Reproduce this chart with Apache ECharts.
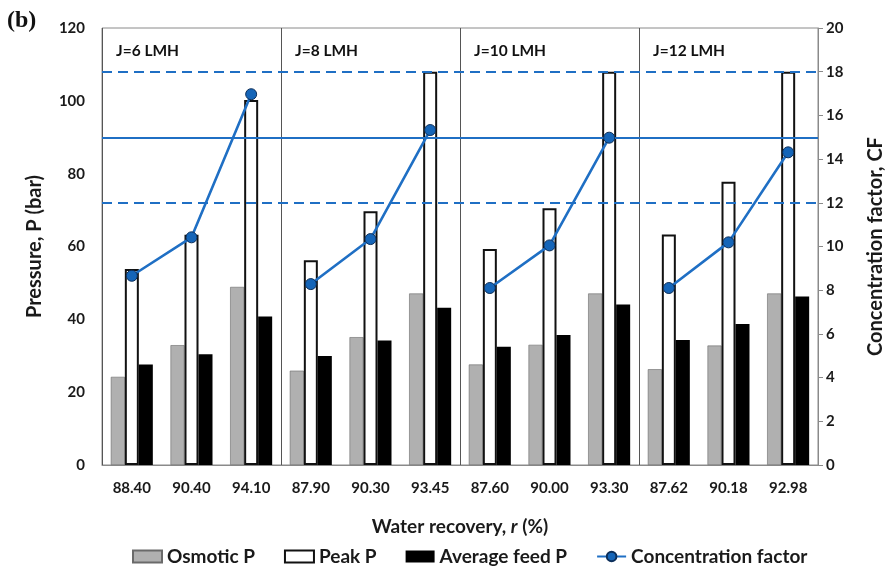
<!DOCTYPE html>
<html><head><meta charset="utf-8">
<script src="https://cdn.jsdelivr.net/npm/echarts@6/dist/echarts.min.js"></script>
<style>html,body{margin:0;padding:0;background:#fff}#c{width:885px;height:572px}</style>
</head><body><div id="c"></div>
<script>
// ---- data ----
const categories = ['88.40','90.40','94.10','87.90','90.30','93.45','87.60','90.00','93.30','87.62','90.18','92.98'];
const groupLabels = ['J=6 LMH','J=8 LMH','J=10 LMH','J=12 LMH'];
const osmoticP = [24.2,32.9,48.9,25.9,35.1,47.1,27.6,33.0,47.1,26.3,32.8,47.1];
const peakP    = [53.8,63.2,100.2,56.2,69.7,108,59.3,70.5,108,63.3,77.8,108];
const avgFeedP = [27.6,30.4,40.8,29.9,34.2,43.2,32.5,35.7,44.1,34.3,38.7,46.3];
const concFactor = [8.66,10.42,16.97,8.28,10.34,15.33,8.10,10.05,14.98,8.10,10.19,14.31];
const cfRefLines = [18,15,12];
const pressureAxis = {min:0,max:120,interval:20};
const cfAxis = {min:0,max:20,interval:2};
const groupSize = 3;

const FONT = 'Lato';
const TXT = '#1a1a1a';
const BLUE = '#1f6fc4';
const chart = echarts.init(document.getElementById('c'), null, {renderer:'canvas'});

// one CF line per flux group (line is broken between groups)
const cfSeries = groupLabels.map((gname, gi) => ({
  name:'Concentration factor', type:'line', yAxisIndex:1, z:5,
  data: concFactor.map((v,i)=> Math.floor(i/groupSize)===gi ? v : '-'),
  connectNulls:false,
  symbol:'circle', symbolSize:11,
  lineStyle:{color:BLUE,width:2.6},
  itemStyle:{color:'#1565b8',borderColor:'#0d2f5a',borderWidth:1},
  markLine: gi===0 ? {silent:true,symbol:['none','none'],label:{show:false},z:4,
    data:cfRefLines.map(v=>({yAxis:v,lineStyle:{color:BLUE,width:1.8,type:v===15?'solid':[10,6]}}))} : undefined
}));

const option = {
  animation:false,
  backgroundColor:'#fff',
  textStyle:{fontFamily:FONT},
  grid:{left:102,right:67,top:28,bottom:107,show:true,borderColor:'#8a8a8a',borderWidth:1,
        containLabel:false,outerBoundsMode:'none'},
  legend:{
    bottom:1,left:127,itemWidth:29,itemHeight:12,itemGap:29,
    textStyle:{fontFamily:FONT,fontSize:19,fontWeight:'bold',color:TXT},
    data:[{name:'Osmotic P',icon:'rect'},{name:'Peak P',icon:'rect'},{name:'Average feed P',icon:'rect'},{name:'Concentration factor'}]
  },
  xAxis:{
    type:'category',data:categories,
    axisLine:{lineStyle:{color:'#8a8a8a',width:1}},
    axisTick:{show:false},
    axisLabel:{fontFamily:FONT,fontSize:15,fontWeight:'bold',color:TXT,margin:16,interval:0},
    splitLine:{show:true,interval:function(i){return i%groupSize===0;},lineStyle:{color:'#555',width:1}},
    name:'Water recovery, {i|r} (%)',nameLocation:'middle',nameGap:52,
    nameTextStyle:{fontFamily:FONT,fontSize:19,fontWeight:'bold',color:TXT,
      rich:{i:{fontFamily:FONT,fontSize:19,fontWeight:'bold',fontStyle:'italic',color:TXT}}}
  },
  yAxis:[
    {type:'value',min:pressureAxis.min,max:pressureAxis.max,interval:pressureAxis.interval,
     axisLine:{show:false},axisTick:{show:false},splitLine:{show:false},
     axisLabel:{fontFamily:FONT,fontSize:15,fontWeight:'bold',color:TXT,margin:17},
     name:'Pressure, P (bar)',nameLocation:'middle',nameGap:57,
     nameTextStyle:{fontFamily:FONT,fontSize:20,fontWeight:'bold',color:TXT}},
    {type:'value',position:'right',min:cfAxis.min,max:cfAxis.max,interval:cfAxis.interval,
     axisLine:{show:true,lineStyle:{color:'#8a8a8a',width:1}},
     axisTick:{show:true,length:5,lineStyle:{color:'#8a8a8a'}},splitLine:{show:false},
     axisLabel:{fontFamily:FONT,fontSize:15,fontWeight:'bold',color:TXT,margin:8},
     name:'Concentration factor, CF',nameLocation:'middle',nameGap:48,
     nameTextStyle:{fontFamily:FONT,fontSize:20,fontWeight:'bold',color:TXT}}
  ],
  series:[
    {name:'Osmotic P',type:'bar',data:osmoticP,barWidth:14,barGap:'0%',
     itemStyle:{color:'#b0b0b0',borderColor:'#6a6a6a',borderWidth:0.6}},
    {name:'Peak P',type:'bar',data:peakP,barWidth:14,barGap:'0%',
     itemStyle:{color:'#ffffff',borderColor:'#111',borderWidth:2}},
    {name:'Average feed P',type:'bar',data:avgFeedP,barWidth:14,barGap:'0%',
     itemStyle:{color:'#000'}}
  ].concat(cfSeries),
  graphic:[
    {type:'text',left:7,top:9,style:{text:'(b)',fontFamily:'Liberation Serif',fontSize:24,fontWeight:'bold',fill:'#111'}}
  ]
};
chart.setOption(option);

// group labels placed at the left edge of each group's band
const p0 = chart.convertToPixel({xAxisIndex:0}, categories[0]);
const p1 = chart.convertToPixel({xAxisIndex:0}, categories[1]);
const band = p1 - p0;
const gTop = chart.convertToPixel({yAxisIndex:0}, pressureAxis.max);
const g = groupLabels.map((t,i)=>{
  const cx = chart.convertToPixel({xAxisIndex:0}, categories[i*groupSize]) - band/2;
  return {type:'text',x:cx+14,y:gTop+15,style:{text:t,fontFamily:FONT,fontSize:15.5,fontWeight:'bold',fill:'#111'}};
});
chart.setOption({graphic:option.graphic.concat(g)});
</script></body></html>
